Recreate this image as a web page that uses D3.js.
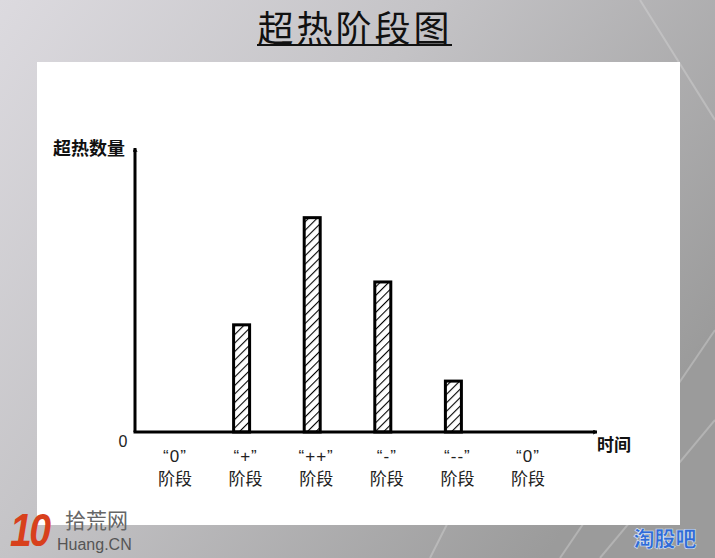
<!DOCTYPE html>
<html><head><meta charset="utf-8">
<script src="https://cdn.jsdelivr.net/npm/d3@7"></script>
<style>html,body{margin:0;padding:0;overflow:hidden;background:#bbb}</style>
</head><body>
<script>
const categories = ["“0”", "“+”", "“++”", "“-”", "“--”", "“0”"];
const stageLabel = "阶段";
const values = [0, 2.0, 4.0, 2.8, 0.95, 0];
const title = "超热阶段图";
const yTitle = "超热数量";
const xTitle = "时间";
const zeroLabel = "0";

const W = 715, H = 558;
const svg = d3.select("body").append("svg").attr("width", W).attr("height", H);
const defs = svg.append("defs");

const bg = defs.append("linearGradient").attr("id","bg").attr("x1","0").attr("y1","0").attr("x2","1").attr("y2","0.6");
bg.append("stop").attr("offset","0").attr("stop-color","#dcdadf");
bg.append("stop").attr("offset","0.45").attr("stop-color","#c4c3c6");
bg.append("stop").attr("offset","1").attr("stop-color","#9b9b9b");

const pat = defs.append("pattern").attr("id","hatch").attr("patternUnits","userSpaceOnUse")
  .attr("width",6).attr("height",6).attr("patternTransform","rotate(45)");
pat.append("rect").attr("width",6).attr("height",6).attr("fill","#fff");
pat.append("line").attr("x1",0).attr("y1",0).attr("x2",0).attr("y2",6).attr("stroke","#000").attr("stroke-width",2.2);

const mk = defs.append("marker").attr("id","arr").attr("viewBox","0 0 10 10").attr("refX",9).attr("refY",5)
  .attr("markerWidth",5).attr("markerHeight",5).attr("orient","auto").attr("markerUnits","userSpaceOnUse");
mk.append("path").attr("d","M1,1 L9,5 L1,9").attr("fill","none").attr("stroke","#000").attr("stroke-width",2);

svg.append("rect").attr("width",W).attr("height",H).attr("fill","url(#bg)");
// faint diagonal streaks
const streaks = [[560,558,715,330],[600,558,715,420],[430,558,560,300],[640,0,715,120]];
svg.selectAll("line.streak").data(streaks).join("line").attr("class","streak")
  .attr("x1",d=>d[0]).attr("y1",d=>d[1]).attr("x2",d=>d[2]).attr("y2",d=>d[3])
  .attr("stroke","#e0e0e0").attr("stroke-width",2).attr("opacity",0.35);

// white panel
svg.append("rect").attr("x",37).attr("y",62).attr("width",643).attr("height",463).attr("fill","#fff");

// title
svg.append("text").attr("x",355).attr("y",42).attr("text-anchor","middle")
  .attr("font-family","'Noto Sans CJK SC'").attr("font-size",36).attr("font-weight",400)
  .attr("fill","#111").attr("letter-spacing",3).text(title);
svg.append("line").attr("x1",257).attr("x2",452).attr("y1",45).attr("y2",45).attr("stroke","#111").attr("stroke-width",2);

const x = d3.scalePoint().domain(d3.range(categories.length)).range([175, 528]);
const y = d3.scaleLinear().domain([0, 5.3]).range([432, 148]);
const x0 = 135;

// bars
const bw = 16;
svg.selectAll("rect.bar").data(values.map((v,i)=>({v,i})).filter(d=>d.v>0)).join("rect").attr("class","bar")
  .attr("x",d=>x(d.i)-4-bw/2).attr("y",d=>y(d.v)).attr("width",bw).attr("height",d=>y(0)-y(d.v))
  .attr("fill","url(#hatch)").attr("stroke","#000").attr("stroke-width",3);

// axes
svg.append("line").attr("x1",x0).attr("y1",y(0)).attr("x2",x0).attr("y2",y.range()[1])
  .attr("stroke","#000").attr("stroke-width",3).attr("marker-end","url(#arr)");
svg.append("line").attr("x1",x0-1.5).attr("y1",y(0)).attr("x2",597).attr("y2",y(0))
  .attr("stroke","#000").attr("stroke-width",3).attr("marker-end","url(#arr)");

const font = "'Noto Sans CJK SC', sans-serif";
svg.append("text").attr("x",89).attr("y",155).attr("text-anchor","middle").attr("font-family",font)
  .attr("font-size",18).attr("font-weight",700).attr("fill","#111").text(yTitle);
svg.append("text").attr("x",614).attr("y",451).attr("text-anchor","middle").attr("font-family",font)
  .attr("font-size",17).attr("font-weight",700).attr("fill","#111").text(xTitle);
svg.append("text").attr("x",123).attr("y",447).attr("text-anchor","middle").attr("font-family","Arial, 'Liberation Sans'")
  .attr("font-size",16).attr("fill","#222").text(zeroLabel);

const lab = svg.selectAll("g.lab").data(categories).join("g").attr("class","lab")
  .attr("transform",(d,i)=>`translate(${x(i)},0)`);
lab.append("text").attr("y",462).attr("text-anchor","middle").attr("font-family","'Liberation Sans', Arial")
  .attr("font-size",17).attr("fill","#222").attr("letter-spacing",1).text(d=>d);
lab.append("text").attr("y",485).attr("text-anchor","middle").attr("font-family",font)
  .attr("font-size",17).attr("fill","#222").text(stageLabel);

// logos
svg.append("text").attr("transform","translate(10,546) scale(0.85,1)").attr("font-family","'Liberation Sans', Arial").attr("font-weight",700)
  .attr("font-style","italic").attr("font-size",46).attr("fill","#d8401c").attr("letter-spacing",-3).text("10");
svg.append("text").attr("x",65).attr("y",528).attr("font-family",font).attr("font-size",21).attr("fill","#666").text("拾荒网");
svg.append("text").attr("x",57).attr("y",550).attr("font-family","'Liberation Sans', Arial").attr("font-size",16).attr("fill","#555").text("Huang.CN");
svg.append("text").attr("x",665).attr("y",546).attr("text-anchor","middle").attr("font-family",font).attr("font-weight",900)
  .attr("font-size",21).attr("fill","#2f6ad8").attr("stroke","#dfe6f2").attr("stroke-width",0.6).text("淘股吧");
</script>
</body></html>
